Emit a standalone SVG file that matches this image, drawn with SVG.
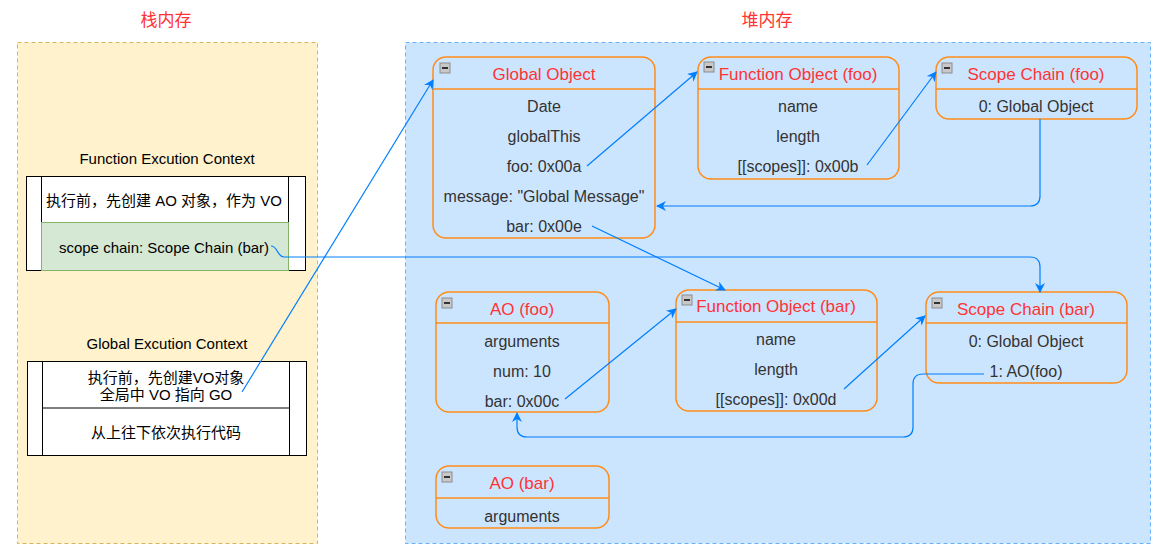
<svg xmlns="http://www.w3.org/2000/svg" width="1174" height="557" viewBox="0 0 1174 557">
<style>
.title{font-family:"Liberation Sans","Noto Sans CJK SC",sans-serif;font-size:17px;fill:#FF3333;text-anchor:middle;dominant-baseline:central}
.lbl{font-family:"Liberation Sans","Noto Sans CJK SC",sans-serif;font-size:15px;fill:#000;text-anchor:middle;dominant-baseline:central}
.hd{font-family:"Liberation Sans",sans-serif;font-size:17px;fill:#FF3333;text-anchor:middle;dominant-baseline:central}
.row{font-family:"Liberation Sans",sans-serif;font-size:16px;fill:#333333;text-anchor:middle;dominant-baseline:central}
.box{fill:none;stroke:#FF8C1A;stroke-width:1.5}
.sep{stroke:#FF8C1A;stroke-width:1.5}
.cell{fill:#fff;stroke:#000;stroke-width:1}
.edge{fill:none;stroke:#007FFF;stroke-width:1.2}
</style>
<defs>
<marker id="arr" viewBox="0 0 10 10" refX="9" refY="5" markerWidth="10" markerHeight="10" markerUnits="userSpaceOnUse" orient="auto">
<path d="M0,0 L10,5 L0,10 L3,5 z" fill="#007FFF"/>
</marker>
<g id="icon"><rect x="0" y="0" width="10" height="10" fill="#c8c8c8" stroke="#8c8c8c" stroke-width="1"/><rect x="2" y="4" width="6" height="2" fill="#333"/></g>
</defs>
<rect width="1174" height="557" fill="#fff"/>

<g id="stack">
<rect x="17.5" y="42.5" width="300" height="501" fill="#FFF2CC" stroke="#D6B656" stroke-dasharray="4 3"/>
<text class="title" x="166" y="20">栈内存</text>
</g>
<g id="heap">
<rect x="405.5" y="42.5" width="745" height="501" fill="#CCE5FF" stroke="#66B2FF" stroke-dasharray="4 3"/>
<text class="title" x="767" y="20">堆内存</text>
</g>

<g id="fec">
<text class="lbl" x="167" y="158">Function Excution Context</text>
<rect class="cell" x="26.5" y="176.5" width="279" height="94"/>
<rect class="cell" x="26.5" y="176.5" width="15" height="94"/>
<rect class="cell" x="288.5" y="176.5" width="17" height="94"/>
<rect x="41.5" y="222.5" width="247" height="48" fill="#D5E8D4" stroke="#82B366"/>
<text class="lbl" x="164" y="200">执行前，先创建 AO 对象，作为 VO</text>
<text class="lbl" x="164" y="247">scope chain: Scope Chain (bar)</text>
</g>

<g id="gec">
<text class="lbl" x="167" y="343">Global Excution Context</text>
<rect class="cell" x="27.5" y="361.5" width="279" height="94"/>
<rect class="cell" x="27.5" y="361.5" width="15" height="94"/>
<rect class="cell" x="289.5" y="361.5" width="17" height="94"/>
<line x1="42.5" y1="408" x2="289.5" y2="408" stroke="#000"/>
<text class="lbl" x="166" y="377">执行前，先创建VO对象</text>
<text class="lbl" x="166" y="394">全局中 VO 指向 GO</text>
<text class="lbl" x="166" y="432">从上往下依次执行代码</text>
</g>

<g id="globalObject">
<rect class="box" x="433" y="57" width="222" height="181" rx="13"/>
<line class="sep" x1="433" y1="89" x2="655" y2="89"/>
<use href="#icon" x="440" y="63"/>
<text class="hd" x="544" y="74">Global Object</text>
<text class="row" x="544" y="106">Date</text>
<text class="row" x="544" y="136">globalThis</text>
<text class="row" x="544" y="166">foo: 0x00a</text>
<text class="row" x="544" y="196">message: "Global Message"</text>
<text class="row" x="544" y="226">bar: 0x00e</text>
</g>

<g id="funcFoo">
<rect class="box" x="698" y="57" width="201" height="122" rx="13"/>
<line class="sep" x1="698" y1="89" x2="899" y2="89"/>
<use href="#icon" x="704" y="62"/>
<text class="hd" x="798" y="74">Function Object (foo)</text>
<text class="row" x="798" y="106">name</text>
<text class="row" x="798" y="136">length</text>
<text class="row" x="798" y="166">[[scopes]]: 0x00b</text>
</g>

<g id="scopeFoo">
<rect class="box" x="936" y="57" width="201" height="62" rx="13"/>
<line class="sep" x1="936" y1="89" x2="1137" y2="89"/>
<use href="#icon" x="942" y="63"/>
<text class="hd" x="1036" y="74">Scope Chain (foo)</text>
<text class="row" x="1036" y="106">0: Global Object</text>
</g>

<g id="aoFoo">
<rect class="box" x="436" y="292" width="173" height="120" rx="13"/>
<line class="sep" x1="436" y1="323" x2="609" y2="323"/>
<use href="#icon" x="442" y="298"/>
<text class="hd" x="522" y="309">AO (foo)</text>
<text class="row" x="522" y="341">arguments</text>
<text class="row" x="522" y="371">num: 10</text>
<text class="row" x="522" y="401">bar: 0x00c</text>
</g>

<g id="funcBar">
<rect class="box" x="676" y="290" width="201" height="121" rx="13"/>
<line class="sep" x1="676" y1="322" x2="877" y2="322"/>
<use href="#icon" x="682" y="295"/>
<text class="hd" x="776" y="306">Function Object (bar)</text>
<text class="row" x="776" y="339">name</text>
<text class="row" x="776" y="369">length</text>
<text class="row" x="776" y="399">[[scopes]]: 0x00d</text>
</g>

<g id="scopeBar">
<rect class="box" x="926" y="292" width="201" height="91" rx="13"/>
<line class="sep" x1="926" y1="323" x2="1127" y2="323"/>
<use href="#icon" x="932" y="298"/>
<text class="hd" x="1026" y="309">Scope Chain (bar)</text>
<text class="row" x="1026" y="341">0: Global Object</text>
<text class="row" x="1026" y="371">1: AO(foo)</text>
</g>

<g id="aoBar">
<rect class="box" x="436" y="466" width="173" height="62" rx="13"/>
<line class="sep" x1="436" y1="498" x2="609" y2="498"/>
<use href="#icon" x="442" y="472"/>
<text class="hd" x="522" y="483">AO (bar)</text>
<text class="row" x="522" y="516">arguments</text>
</g>

<g id="connectors">
<path class="edge" d="M242,392 L433,80" marker-end="url(#arr)"/>
<path class="edge" d="M587,166 L697,72" marker-end="url(#arr)"/>
<path class="edge" d="M867,165 L936,72" marker-end="url(#arr)"/>
<path class="edge" d="M1040,119 V196 Q1040,206 1030,206 H657" marker-end="url(#arr)"/>
<path class="edge" d="M592,226 L725,290" marker-end="url(#arr)"/>
<path class="edge" d="M271,246 C278,246 277,257 284,257 H1030 Q1040,257 1040,267 V292" marker-end="url(#arr)"/>
<path class="edge" d="M565,399 L676,309" marker-end="url(#arr)"/>
<path class="edge" d="M844,389 L925,316" marker-end="url(#arr)"/>
<path class="edge" d="M984,374 H923 Q913,374 913,384 V427 Q913,437 903,437 H527 Q517,437 517,427 V413" marker-end="url(#arr)"/>
</g>
</svg>
